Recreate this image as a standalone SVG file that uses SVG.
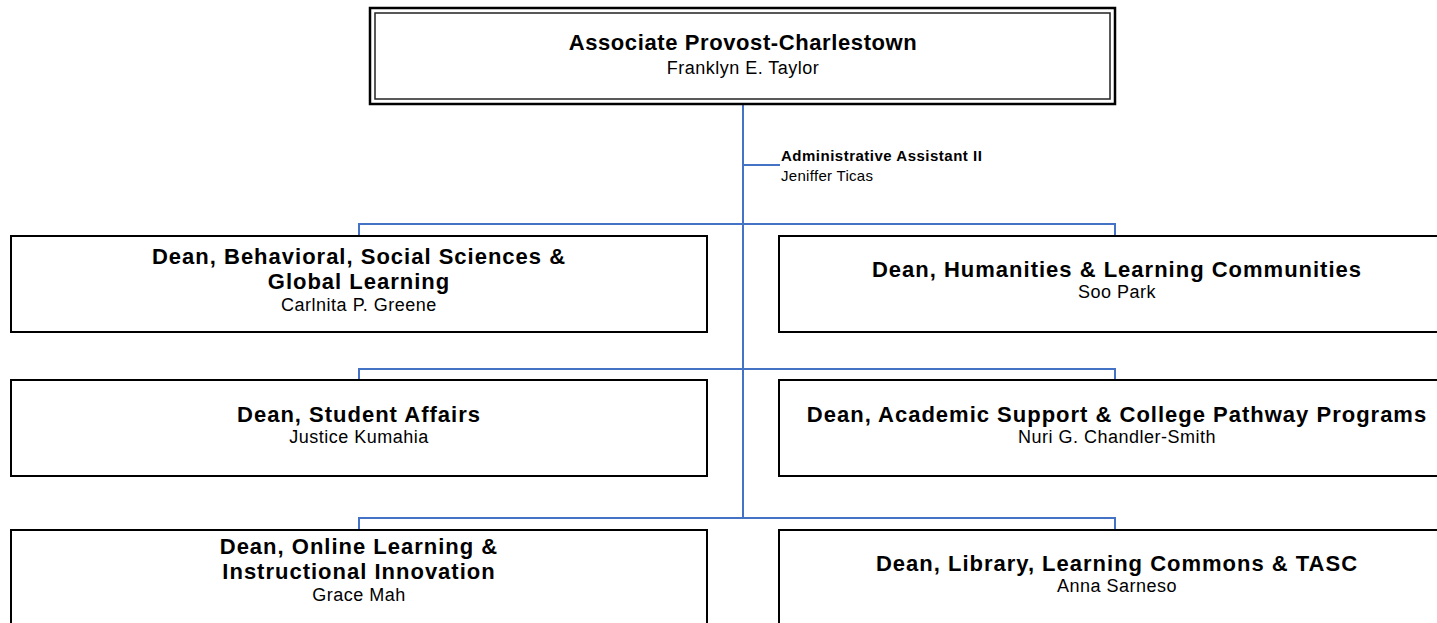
<svg xmlns="http://www.w3.org/2000/svg" width="1437" height="623" viewBox="0 0 1437 623">
<style>
.box{fill:#fff;stroke:#000;stroke-width:2}
.conn{fill:none;stroke:#4472C4;stroke-width:2}
.h{font-family:"Liberation Sans",Arial,sans-serif;font-weight:bold;font-size:22px;letter-spacing:1px;text-anchor:middle;fill:#000}
.n{font-family:"Liberation Sans",Arial,sans-serif;font-size:18px;letter-spacing:0.5px;text-anchor:middle;fill:#000}
.ah{font-family:"Liberation Sans",Arial,sans-serif;font-weight:bold;font-size:15px;letter-spacing:0.5px;fill:#000}
.an{font-family:"Liberation Sans",Arial,sans-serif;font-size:15px;letter-spacing:0.3px;fill:#000}
</style>
<rect width="1437" height="623" fill="#fff"/>
<g id="connectors">
<path class="conn" d="M743 104 V518"/>
<path class="conn" d="M743 165 H780"/>
<path class="conn" d="M359 236 V224 H1115 V236"/>
<path class="conn" d="M359 380 V369 H1115 V380"/>
<path class="conn" d="M359 530 V518 H1115 V530"/>
</g>
<g id="provost">
<rect x="370" y="8" width="745" height="96" fill="#fff" stroke="#000" stroke-width="2.5"/>
<rect x="375" y="13" width="735" height="86" fill="none" stroke="#222" stroke-width="1.5"/>
<text class="h" x="743" y="50" style="letter-spacing:0.6px">Associate Provost-Charlestown</text>
<text class="n" x="743" y="74">Franklyn E. Taylor</text>
</g>
<g id="admin">
<text class="ah" x="781" y="161">Administrative Assistant II</text>
<text class="an" x="781" y="181">Jeniffer Ticas</text>
</g>
<g id="dean-bssgl">
<rect class="box" x="11" y="236" width="696" height="96"/>
<text class="h" x="359" y="264">Dean, Behavioral, Social Sciences &amp;</text>
<text class="h" x="359" y="289">Global Learning</text>
<text class="n" x="359" y="311">Carlnita P. Greene</text>
</g>
<g id="dean-hlc">
<rect class="box" x="779" y="236" width="672" height="96"/>
<text class="h" x="1117" y="277">Dean, Humanities &amp; Learning Communities</text>
<text class="n" x="1117" y="298">Soo Park</text>
</g>
<g id="dean-sa">
<rect class="box" x="11" y="380" width="696" height="96"/>
<text class="h" x="359" y="422">Dean, Student Affairs</text>
<text class="n" x="359" y="443">Justice Kumahia</text>
</g>
<g id="dean-ascpp">
<rect class="box" x="779" y="380" width="672" height="96"/>
<text class="h" x="1117" y="422">Dean, Academic Support &amp; College Pathway Programs</text>
<text class="n" x="1117" y="443">Nuri G. Chandler-Smith</text>
</g>
<g id="dean-olii">
<rect class="box" x="11" y="530" width="696" height="110"/>
<text class="h" x="359" y="554">Dean, Online Learning &amp;</text>
<text class="h" x="359" y="579">Instructional Innovation</text>
<text class="n" x="359" y="601">Grace Mah</text>
</g>
<g id="dean-llct">
<rect class="box" x="779" y="530" width="672" height="110"/>
<text class="h" x="1117" y="571">Dean, Library, Learning Commons &amp; TASC</text>
<text class="n" x="1117" y="592">Anna Sarneso</text>
</g>
</svg>
